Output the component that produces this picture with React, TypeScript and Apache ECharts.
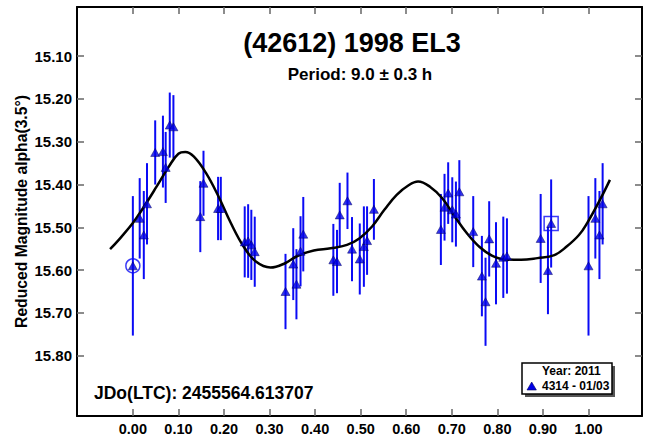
import React, { useEffect, useRef } from "react";
import * as echarts from "echarts";

// Observation phases, reduced magnitudes and error half-lengths
const phases = [
  0.0, 0.015, 0.024, 0.031, 0.049, 0.066, 0.072, 0.081, 0.089, 0.148, 0.155, 0.187, 0.193,
  0.2455, 0.253, 0.26, 0.2675, 0.335, 0.352, 0.359, 0.368, 0.374, 0.44, 0.448, 0.454, 0.471,
  0.481, 0.498, 0.507, 0.514, 0.529, 0.676, 0.684, 0.692, 0.701, 0.709, 0.7165, 0.747, 0.766,
  0.774, 0.782, 0.797, 0.813, 0.821, 0.895, 0.911, 0.918, 1.0, 1.015, 1.024, 1.031,
];
const mags = [
  15.59, 15.479, 15.518, 15.445, 15.325, 15.323, 15.36, 15.261, 15.265, 15.475, 15.397, 15.456,
  15.456, 15.534, 15.532, 15.541, 15.557, 15.65, 15.586, 15.633, 15.556, 15.516, 15.576, 15.58,
  15.471, 15.438, 15.551, 15.574, 15.545, 15.531, 15.458, 15.505, 15.453, 15.42, 15.459, 15.469,
  15.417, 15.51, 15.614, 15.674, 15.527, 15.584, 15.57, 15.567, 15.526, 15.601, 15.491, 15.59,
  15.479, 15.518, 15.445,
];
const errs = [
  0.163, 0.094, 0.103, 0.095, 0.075, 0.084, 0.083, 0.076, 0.074, 0.083, 0.076, 0.074, 0.074,
  0.083, 0.086, 0.082, 0.082, 0.088, 0.084, 0.082, 0.082, 0.087, 0.084, 0.074, 0.075, 0.066,
  0.075, 0.083, 0.094, 0.08, 0.071, 0.083, 0.078, 0.072, 0.076, 0.076, 0.074, 0.083, 0.094,
  0.103, 0.088, 0.096, 0.095, 0.088, 0.104, 0.102, 0.103, 0.163, 0.094, 0.103, 0.095,
];
// Highlighted points (circle = first point, square = last point)
const circledPoint = [0.0, 15.59];
const boxedPoint = [0.918, 15.491];

// Fourier fit curve
const curvePhase = [
  -0.05, -0.03, 0.0, 0.02, 0.052, 0.079, 0.1, 0.115, 0.134, 0.161, 0.188, 0.215, 0.243, 0.27,
  0.302, 0.334, 0.361, 0.397, 0.434, 0.47, 0.497, 0.525, 0.552, 0.579, 0.606, 0.626, 0.652,
  0.679, 0.706, 0.734, 0.761, 0.788, 0.815, 0.852, 0.888, 0.925, 0.952, 0.979, 0.997, 1.025,
  1.047,
];
const curveMag = [
  15.551, 15.528, 15.49, 15.459, 15.405, 15.358, 15.328, 15.324, 15.335, 15.374, 15.428, 15.49,
  15.545, 15.58, 15.594, 15.584, 15.567, 15.554, 15.549, 15.541, 15.526, 15.498, 15.459, 15.424,
  15.401, 15.393, 15.405, 15.432, 15.474, 15.515, 15.546, 15.566, 15.575, 15.576, 15.572,
  15.565, 15.545, 15.518, 15.49, 15.436, 15.389,
];

const xTickLabels = ["0.00", "0.10", "0.20", "0.30", "0.40", "0.50", "0.60", "0.70", "0.80", "0.90", "1.00"];
const yTickLabels = ["15.10", "15.20", "15.30", "15.40", "15.50", "15.60", "15.70", "15.80"];

const titleText = "(42612) 1998 EL3";
const subtitleText = "Period: 9.0 \u00b1 0.3 h";
const yAxisTitle = "Reduced Magnitude alpha(3.5\u00b0)";
const epochText = "JDo(LTC): 2455564.613707";
const legendYear = "Year: 2011";
const legendSeries = "4314 - 01/03";

const FONT = "'Liberation Sans', Arial, Helvetica, sans-serif";
const BLUE = "#0a0af5";

export default function App() {
  const ref = useRef<HTMLDivElement>(null);

  useEffect(() => {
    document.body.style.margin = "0";
    const chart = echarts.init(ref.current!, undefined, { renderer: "svg" });
    const xVals = xTickLabels.map(Number);
    const yVals = yTickLabels.map(Number);
    const xMin = -0.1226;
    const xMax = 1.1174;
    const yMin = 14.985;
    const yMax = 15.941;

    const baseX = {
      type: "value",
      min: xMin,
      max: xMax,
      splitLine: { show: false },
      axisLine: { show: true, onZero: false, lineStyle: { color: "#000", width: 2 } },
    };
    const baseY = {
      type: "value",
      min: yMin,
      max: yMax,
      inverse: true,
      splitLine: { show: false },
      axisLine: { show: true, onZero: false, lineStyle: { color: "#000", width: 2 } },
    };
    const tick = {
      show: true,
      inside: true,
      length: 7,
      lineStyle: { color: "#666", width: 1.5 },
    };

    const points = phases.map((p, i) => [p, mags[i]]);
    const bars = phases.map((p, i) => [p, mags[i] - errs[i], mags[i] + errs[i]]);
    const curve = curvePhase.map((p, i) => [p, curveMag[i]]);

    chart.setOption({
      animation: false,
      backgroundColor: "#fff",
      grid: { left: 77, right: 3, top: 7, bottom: 25, containLabel: false },
      xAxis: [
        {
          ...baseX,
          position: "bottom",
          axisTick: { ...tick, customValues: xVals },
          axisLabel: {
            customValues: xVals,
            formatter: (v: number) => v.toFixed(2),
            color: "#000",
            fontFamily: FONT,
            fontWeight: "bold",
            fontSize: 14.5,
            margin: 5,
          },
        },
        {
          ...baseX,
          position: "top",
          axisTick: { ...tick, customValues: xVals },
          axisLabel: { show: false, customValues: xVals },
        },
      ],
      yAxis: [
        {
          ...baseY,
          position: "left",
          axisTick: { ...tick, customValues: yVals },
          axisLabel: {
            customValues: yVals,
            formatter: (v: number) => v.toFixed(2),
            color: "#000",
            fontFamily: FONT,
            fontWeight: "bold",
            fontSize: 15,
            margin: 5,
          },
        },
        {
          ...baseY,
          position: "right",
          axisTick: { ...tick, customValues: yVals },
          axisLabel: { show: false, customValues: yVals },
        },
      ],
      series: [
        {
          type: "custom",
          xAxisIndex: 0,
          yAxisIndex: 0,
          data: bars,
          encode: { x: 0, y: [1, 2] },
          renderItem: (_params: any, api: any) => {
            const x = api.value(0);
            const a = api.coord([x, api.value(1)]);
            const b = api.coord([x, api.value(2)]);
            return {
              type: "line",
              shape: { x1: a[0], y1: a[1], x2: b[0], y2: b[1] },
              style: { stroke: BLUE, lineWidth: 2 },
            };
          },
          z: 1,
        },
        {
          type: "line",
          data: curve,
          smooth: 0.4,
          symbol: "none",
          lineStyle: { color: "#000", width: 2.5 },
          z: 2,
        },
        {
          type: "scatter",
          data: points,
          symbol: "triangle",
          symbolSize: [9, 8],
          itemStyle: { color: "#0000e6", borderColor: "#000060", borderWidth: 0.6 },
          z: 3,
        },
        {
          type: "scatter",
          data: [circledPoint],
          symbol: "circle",
          symbolSize: 14,
          itemStyle: { color: "rgba(0,0,0,0)", borderColor: BLUE, borderWidth: 1.5 },
          z: 4,
        },
        {
          type: "scatter",
          data: [boxedPoint],
          symbol: "rect",
          symbolSize: 14,
          itemStyle: { color: "rgba(0,0,0,0)", borderColor: BLUE, borderWidth: 1.5 },
          z: 4,
        },
      ],
      graphic: [
        {
          type: "text",
          x: 352,
          y: 43,
          style: {
            text: titleText,
            fill: "#000",
            font: `bold 27px ${FONT}`,
            textAlign: "center",
            textVerticalAlign: "middle",
          },
        },
        {
          type: "text",
          x: 360,
          y: 74,
          style: {
            text: subtitleText,
            fill: "#000",
            font: `bold 17px ${FONT}`,
            textAlign: "center",
            textVerticalAlign: "middle",
          },
        },
        {
          type: "text",
          x: 21.5,
          y: 211.5,
          rotation: Math.PI / 2,
          style: {
            text: yAxisTitle,
            fill: "#000",
            font: `bold 15.7px ${FONT}`,
            textAlign: "center",
            textVerticalAlign: "middle",
          },
        },
        {
          type: "text",
          x: 94,
          y: 393,
          style: {
            text: epochText,
            fill: "#000",
            font: `bold 17.5px ${FONT}`,
            textAlign: "left",
            textVerticalAlign: "middle",
          },
        },
        {
          type: "rect",
          shape: { x: 525, y: 366, width: 90, height: 31 },
          style: { fill: "#555", stroke: "none" },
        },
        {
          type: "rect",
          shape: { x: 522, y: 363, width: 90, height: 31 },
          style: { fill: "#fff", stroke: "#000", lineWidth: 1.5 },
        },
        {
          type: "text",
          x: 542,
          y: 371,
          style: {
            text: legendYear,
            fill: "#000",
            font: `bold 12px ${FONT}`,
            textAlign: "left",
            textVerticalAlign: "middle",
          },
        },
        {
          type: "polygon",
          shape: { points: [[531.7, 382], [527, 390], [536.4, 390]] },
          style: { fill: "#0000e6", stroke: "#000060", lineWidth: 0.6 },
        },
        {
          type: "text",
          x: 542,
          y: 386,
          style: {
            text: legendSeries,
            fill: "#000",
            font: `bold 12px ${FONT}`,
            textAlign: "left",
            textVerticalAlign: "middle",
          },
        },
      ],
    });
    return () => chart.dispose();
  }, []);

  return <div ref={ref} style={{ width: 645, height: 441 }} />;
}
